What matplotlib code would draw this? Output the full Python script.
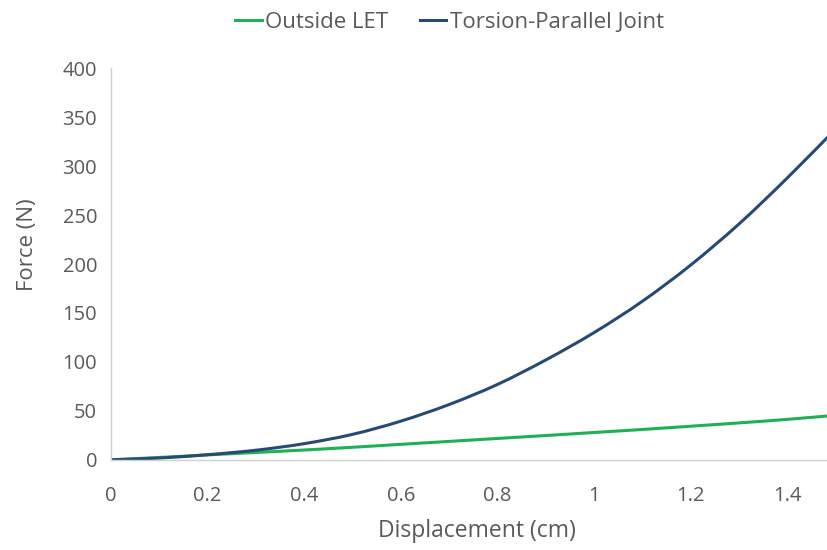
import numpy as np
import matplotlib.pyplot as plt
from matplotlib.path import Path
from matplotlib.patches import PathPatch
from matplotlib.lines import Line2D

plt.rcParams['font.family'] = ['Open Sans', 'DejaVu Sans']

# data
disp = [0, 0.1, 0.2, 0.3, 0.4, 0.5, 0.6, 0.7, 0.8, 0.9, 1.0, 1.1, 1.2, 1.3, 1.4, 1.5]
outside_let = [0, 2.4, 5.0, 7.5, 10.0, 12.8, 15.8, 18.8, 21.8, 24.8, 27.9, 31.0, 34.3, 37.7, 41.3, 45.5]
torsion_parallel = [0, 1.8, 5.2, 9.8, 16.5, 26.0, 39.5, 56.5, 77.0, 102.0, 130.0, 162.0, 199.0, 241.0, 288.0, 338.0]

green = "#1FAF55"
navy = "#264A72"
grey = "#595959"


def smooth_path(x, y):
    # Excel style smoothed line: Catmull-Rom segments as cubic beziers
    x = np.asarray(x, float)
    y = np.asarray(y, float)
    pts = np.column_stack([x, y])
    verts = [pts[0]]
    codes = [Path.MOVETO]
    n = len(pts)
    for i in range(n - 1):
        p0 = pts[i - 1] if i > 0 else pts[i]
        p1, p2 = pts[i], pts[i + 1]
        p3 = pts[i + 2] if i + 2 < n else pts[i + 1]
        c1 = p1 + (p2 - p0) / 6.0
        c2 = p2 - (p3 - p1) / 6.0
        verts += [c1, c2, p2]
        codes += [Path.CURVE4] * 3
    return Path(verts, codes)


fig = plt.figure(figsize=(8.28, 5.5), dpi=100)
ax = fig.add_axes([0.134, 0.164, 0.866, 0.712])

for yy, col in [(outside_let, green), (torsion_parallel, navy)]:
    ax.add_patch(PathPatch(smooth_path(disp, yy), facecolor="none",
                           edgecolor=col, lw=2.2, capstyle="round"))

ax.set_xlim(0, 1.484)
ax.set_ylim(0, 400)
ax.set_xticks([0, 0.2, 0.4, 0.6, 0.8, 1.0, 1.2, 1.4])
ax.set_xticklabels(["0", "0.2", "0.4", "0.6", "0.8", "1", "1.2", "1.4"])
ax.set_yticks(np.arange(0, 401, 50))

for s in ["top", "right"]:
    ax.spines[s].set_visible(False)
for s in ["left", "bottom"]:
    ax.spines[s].set_color("#D0D0D0")
    ax.spines[s].set_linewidth(1.0)

ax.tick_params(length=0, labelsize=14.5, labelcolor=grey)
ax.tick_params(axis="x", pad=19)
ax.tick_params(axis="y", pad=10)
ax.set_xlabel("Displacement (cm)", fontsize=16.5, color=grey)
ax.set_ylabel("Force (N)", fontsize=16, color=grey)
ax.xaxis.set_label_coords(0.51, -0.152)
ax.yaxis.set_label_coords(-0.102, 0.55)

handles = [Line2D([], [], color=green, lw=2.2), Line2D([], [], color=navy, lw=2.2)]
fig.legend(handles, ["Outside LET", "Torsion-Parallel Joint"], loc="center",
           bbox_to_anchor=(0.543, 0.96), ncol=2, frameon=False,
           fontsize=16, labelcolor=grey, handlelength=1.2, handletextpad=0.15,
           columnspacing=1.4)

fig.savefig("out.png", dpi=100)
